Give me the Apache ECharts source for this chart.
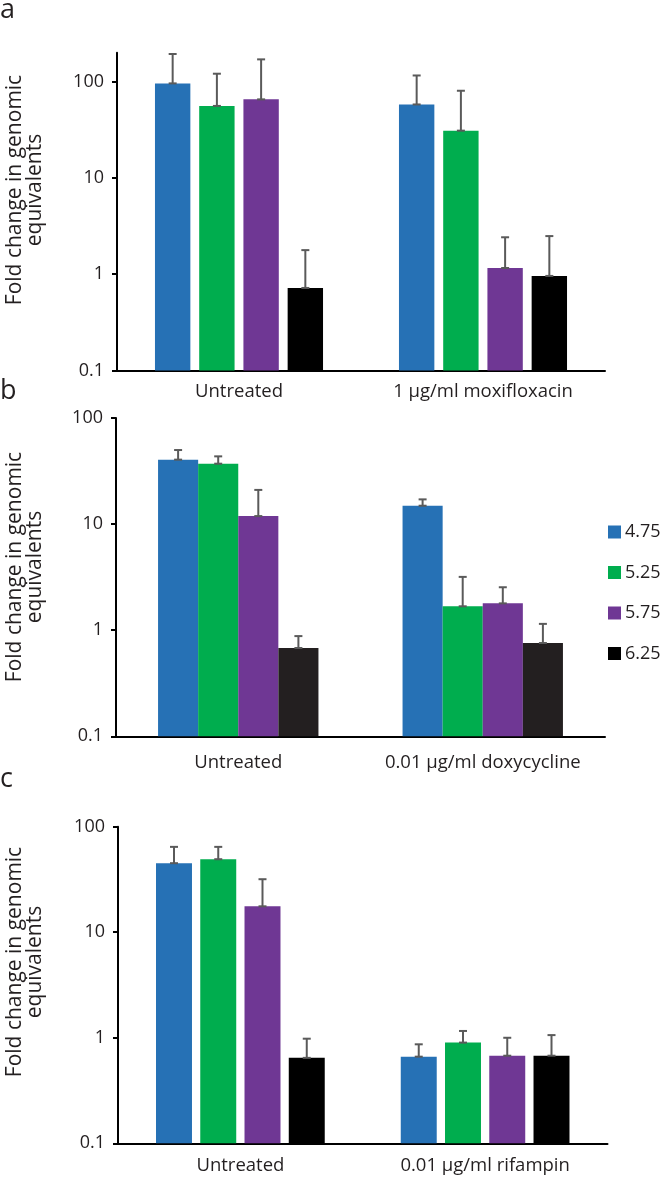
<!DOCTYPE html>
<html>
<head>
<meta charset="utf-8">
<script src="https://cdn.jsdelivr.net/npm/echarts@6/dist/echarts.min.js"></script>
<style>
html,body{margin:0;padding:0;background:#fff;}
#chart{width:663px;height:1178px;}
</style>
</head>
<body>
<div id="chart"></div>
<script>
// ---------- data ----------
const phLabels = ['4.75', '5.25', '5.75', '6.25'];
const yTickValues = [0.1, 1, 10, 100];

const catA = ['Untreated', '1 μg/ml moxifloxacin'];
const catB = ['Untreated', '0.01 μg/ml doxycycline'];
const catC = ['Untreated', '0.01 μg/ml rifampin'];

// panel a (values, upper error)
const aVal475 = [96, 58];     const aErr475 = [98, 58];
const aVal525 = [56, 31];     const aErr525 = [65, 49.5];
const aVal575 = [65.5, 1.16]; const aErr575 = [105, 1.26];
const aVal625 = [0.72, 0.96]; const aErr625 = [1.06, 1.53];

// panel b
const bVal475 = [40.5, 14.9]; const bErr475 = [9.4, 2.2];
const bVal525 = [37.1, 1.68]; const bErr525 = [6.4, 1.5];
const bVal575 = [11.9, 1.79]; const bErr575 = [9.1, 0.75];
const bVal625 = [0.68, 0.757]; const bErr625 = [0.2, 0.39];

// panel c
const cVal475 = [45.1, 0.662]; const cErr475 = [19.3, 0.205];
const cVal525 = [49.2, 0.90];  const cErr525 = [15.2, 0.26];
const cVal575 = [17.6, 0.676]; const cErr575 = [14.2, 0.324];
const cVal625 = [0.645, 0.676]; const cErr625 = [0.335, 0.384];

const yTitleLines = ['Fold change in genomic', 'equivalents'];

// ---------- styles / layout ----------
const FONT = 'Open Sans';
const TXT = '#231f20';
const colorsA = ['#2671b5', '#00ad4e', '#6f3794', '#000000'];
const colorsB = ['#2671b5', '#00ad4e', '#6f3794', '#231f20'];
const colorsC = ['#2671b5', '#00ad4e', '#6f3794', '#000000'];

const panels = [
  { cats: catA, vals: [aVal475, aVal525, aVal575, aVal625], errs: [aErr475, aErr525, aErr575, aErr625], colors: colorsA,
    grid: { left: 117, right: 58, top: 52.7, bottom: 807.5 }, max: 200, barPct: 0.145, gapPct: 0.25, labelMargin: 12 },
  { cats: catB, vals: [bVal475, bVal525, bVal575, bVal625], errs: [bErr475, bErr525, bErr575, bErr625], colors: colorsB,
    grid: { left: 116, right: 58, top: 418, bottom: 441.7 }, max: 100, barPct: 0.164, gapPct: 0, labelMargin: 17 },
  { cats: catC, vals: [cVal475, cVal525, cVal575, cVal625], errs: [cErr475, cErr525, cErr575, cErr625], colors: colorsC,
    grid: { left: 118, right: 55.5, top: 826.7, bottom: 34.7 }, max: 100, barPct: 0.147, gapPct: 0.23, labelMargin: 12.5 }
];

const grids = [], xAxes = [], yAxes = [], series = [];
panels.forEach((p, pi) => {
  grids.push(Object.assign({ containLabel: false }, p.grid));
  xAxes.push({
    type: 'category', gridIndex: pi, data: p.cats,
    axisLine: { lineStyle: { color: '#000', width: 2 } },
    axisTick: { show: false },
    axisLabel: { fontFamily: FONT, fontSize: 18.5, color: TXT, margin: p.labelMargin, interval: 0 },
    splitLine: { show: false }
  });
  yAxes.push({
    type: 'log', logBase: 10, gridIndex: pi, min: 0.1, max: p.max, startValue: 0.1,
    axisLine: { show: true, lineStyle: { color: '#000', width: 2 } },
    axisTick: { show: true, length: 5, customValues: yTickValues, lineStyle: { color: '#000', width: 2 } },
    axisLabel: { fontFamily: FONT, fontSize: 18, color: TXT, margin: 13, customValues: yTickValues,
      formatter: v => String(v) },
    splitLine: { show: false }
  });
  p.vals.forEach((arr, k) => {
    series.push({
      type: 'bar', name: phLabels[k], xAxisIndex: pi, yAxisIndex: pi,
      data: arr, barWidth: (p.barPct * 100) + '%', barGap: (p.gapPct * 100) + '%',
      itemStyle: { color: p.colors[k] }, z: 2
    });
  });
  const errData = [];
  p.vals.forEach((arr, k) => arr.forEach((v, c) => errData.push([c, k, v, p.errs[k][c]])));
  series.push({
    type: 'custom', xAxisIndex: pi, yAxisIndex: pi, z: 5, clip: false, silent: true,
    encode: { x: 0, y: 2 },
    data: errData,
    renderItem: (params, api) => {
      const c = api.value(0), k = api.value(1), v = api.value(2), e = api.value(3);
      const p0 = api.coord([c, v]);
      const p1 = api.coord([c, v + e]);
      const band = api.coord([1, v])[0] - api.coord([0, v])[0];
      const w = band * p.barPct, g = w * p.gapPct;
      const x = p0[0] + (k - 1.5) * (w + g);
      const st = { stroke: '#5a5a5a', lineWidth: 2 };
      return {
        type: 'group', children: [
          { type: 'line', shape: { x1: x, y1: p0[1], x2: x, y2: p1[1] }, style: st },
          { type: 'line', shape: { x1: x - 4, y1: p1[1], x2: x + 4, y2: p1[1] }, style: st },
          { type: 'line', shape: { x1: x - 4, y1: p0[1], x2: x + 4, y2: p0[1] }, style: st }
        ]
      };
    }
  });
});

const titleYs = [190, 567, 962];
const titleXs = [15, 35];
const letters = [['a', 10], ['b', 391], ['c', 779]];
const graphics = [];
titleYs.forEach(y => yTitleLines.forEach((line, li) => graphics.push({
  type: 'text', x: titleXs[li], y: y, rotation: Math.PI / 2,
  style: { text: line, font: '21px "Open Sans"', fill: TXT, align: 'center', verticalAlign: 'middle' }
})));
letters.forEach(([t, y]) => graphics.push({
  type: 'text', x: 0, y: y,
  style: { text: t, font: '27px "Open Sans"', fill: TXT, align: 'left', verticalAlign: 'middle' }
}));

const chart = echarts.init(document.getElementById('chart'), null, { renderer: 'canvas' });
chart.setOption({
  animation: false,
  backgroundColor: '#fff',
  grid: grids, xAxis: xAxes, yAxis: yAxes, series: series,
  legend: {
    data: phLabels, orient: 'vertical', left: 608, top: 523, padding: 0,
    itemWidth: 13, itemHeight: 13, itemGap: 22.5, icon: 'rect',
    textStyle: { fontFamily: FONT, fontSize: 18, color: TXT, padding: [0, 0, 0, -1] }
  },
  graphic: graphics
});
</script>
</body>
</html>
